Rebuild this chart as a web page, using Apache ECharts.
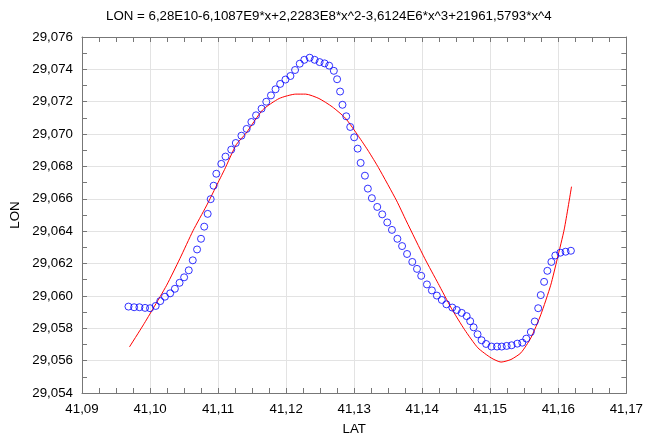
<!DOCTYPE html>
<html>
<head>
<meta charset="utf-8">
<script src="https://cdn.jsdelivr.net/npm/echarts@6/dist/echarts.min.js"></script>
<style>
html,body{margin:0;padding:0;background:#fff;}
#chart{width:646px;height:441px;}
</style>
</head>
<body>
<div id="chart"></div>
<script>
var titleText = 'LON = 6,28E10-6,1087E9*x+2,2283E8*x^2-3,6124E6*x^3+21961,5793*x^4';
var xName = 'LAT';
var yName = 'LON';
var xTicks = [41.09, 41.10, 41.11, 41.12, 41.13, 41.14, 41.15, 41.16, 41.17];
var yTicks = [29.054, 29.056, 29.058, 29.060, 29.062, 29.064, 29.066, 29.068, 29.070, 29.072, 29.074, 29.076];

var obsLat = [41.09683,41.09766,41.09844,41.09927,41.10000,41.10083,41.10150,41.10219,41.10296,41.10365,
  41.10434,41.10501,41.10569,41.10628,41.10691,41.10749,41.10796,41.10847,41.10891,41.10934,
  41.10974,41.11047,41.11109,41.11193,41.11260,41.11343,41.11420,41.11489,41.11558,41.11639,
  41.11708,41.11777,41.11844,41.11912,41.11990,41.12063,41.12131,41.12200,41.12267,41.12346,
  41.12419,41.12492,41.12565,41.12632,41.12701,41.12749,41.12793,41.12828,41.12883,41.12942,
  41.13000,41.13051,41.13095,41.13158,41.13201,41.13260,41.13339,41.13412,41.13486,41.13555,
  41.13635,41.13704,41.13777,41.13854,41.13923,41.13985,41.14069,41.14142,41.14215,41.14288,
  41.14355,41.14442,41.14507,41.14580,41.14653,41.14705,41.14755,41.14813,41.14872,41.14939,
  41.15018,41.15099,41.15168,41.15241,41.15314,41.15397,41.15470,41.15529,41.15596,41.15654,
  41.15704,41.15742,41.15791,41.15839,41.15898,41.15956,41.16029,41.16107,41.16185];
var obsLon = [29.05934,29.05930,29.05930,29.05926,29.05924,29.05938,29.05968,29.05995,29.06016,29.06044,
  29.06081,29.06115,29.06158,29.06220,29.06287,29.06353,29.06428,29.06507,29.06598,29.06681,
  29.06755,29.06816,29.06861,29.06904,29.06945,29.06990,29.07032,29.07075,29.07116,29.07157,
  29.07200,29.07239,29.07277,29.07310,29.07337,29.07359,29.07396,29.07435,29.07459,29.07472,
  29.07459,29.07445,29.07437,29.07423,29.07391,29.07339,29.07263,29.07181,29.07110,29.07044,
  29.06980,29.06910,29.06822,29.06743,29.06663,29.06604,29.06550,29.06504,29.06454,29.06408,
  29.06353,29.06308,29.06259,29.06210,29.06167,29.06124,29.06071,29.06034,29.06002,29.05975,
  29.05948,29.05928,29.05913,29.05895,29.05875,29.05844,29.05806,29.05763,29.05726,29.05703,
  29.05687,29.05687,29.05687,29.05691,29.05695,29.05705,29.05711,29.05736,29.05777,29.05842,
  29.05924,29.06005,29.06087,29.06155,29.06210,29.06250,29.06267,29.06273,29.06279];

var fitLat = [41.09698,41.09902,41.10048,41.10244,41.10438,41.10632,41.10828,41.10974,41.11095,41.11266,
  41.11412,41.11654,41.11898,41.12142,41.12288,41.12482,41.12676,41.12872,41.13066,41.13212,
  41.13358,41.13625,41.13766,41.14039,41.14234,41.14428,41.14623,41.14818,41.15012,41.15158,
  41.15304,41.15450,41.15596,41.15742,41.15888,41.15985,41.16088,41.16194];
var fitLon = [29.05685,29.05821,29.05924,29.06066,29.06230,29.06403,29.06556,29.06679,29.06781,29.06934,
  29.07006,29.07149,29.07220,29.07247,29.07247,29.07220,29.07169,29.07098,29.06985,29.06893,
  29.06792,29.06587,29.06463,29.06230,29.06077,29.05924,29.05791,29.05679,29.05617,29.05591,
  29.05607,29.05648,29.05740,29.05883,29.06066,29.06230,29.06414,29.06675];

var FONT = '"Liberation Sans", Arial, sans-serif';
var obs = obsLat.map(function (v, i) { return [v, obsLon[i]]; });
var fit = fitLat.map(function (v, i) { return [v, fitLon[i]]; });

function fmtX(v) { return v.toFixed(2).replace('.', ','); }
function fmtY(v) { return v.toFixed(3).replace('.', ','); }

var axisLineStyle = { color: '#777', width: 1 };
var tickStyle = { color: '#777', width: 1 };

function xAxisDef(pos, main) {
  return {
    type: 'value', position: pos,
    min: xTicks[0], max: xTicks[xTicks.length - 1], interval: 0.01,
    name: main ? xName : '', nameLocation: 'middle', nameGap: 30,
    nameTextStyle: { fontFamily: FONT, fontSize: 13.3, color: '#000' },
    axisLine: { show: true, onZero: false, lineStyle: axisLineStyle },
    axisTick: { show: true, inside: true, length: 5, lineStyle: tickStyle },
    minorTick: { show: true, splitNumber: 4, length: 5, lineStyle: tickStyle },
    axisLabel: { show: main, formatter: fmtX, fontFamily: FONT, fontSize: 13.3, color: '#000', margin: 10 },
    splitLine: { show: main, lineStyle: { color: '#e3e3e3', width: 1 } },
    minorSplitLine: { show: false }
  };
}
function yAxisDef(pos, main) {
  return {
    type: 'value', position: pos,
    min: yTicks[0], max: yTicks[yTicks.length - 1], interval: 0.002,
    name: main ? yName : '', nameLocation: 'middle', nameGap: 60, nameRotate: 90,
    nameTextStyle: { fontFamily: FONT, fontSize: 13.3, color: '#000' },
    axisLine: { show: true, onZero: false, lineStyle: axisLineStyle },
    axisTick: { show: true, inside: true, length: 5, lineStyle: tickStyle },
    minorTick: { show: true, splitNumber: 2, length: 5, lineStyle: tickStyle },
    axisLabel: { show: main, formatter: fmtY, fontFamily: FONT, fontSize: 13.3, color: '#000', margin: 9 },
    splitLine: { show: main, lineStyle: { color: '#e3e3e3', width: 1 } },
    minorSplitLine: { show: false }
  };
}

var chart = echarts.init(document.getElementById('chart'), null, { renderer: 'canvas' });
chart.setOption({
  animation: false,
  backgroundColor: '#fff',
  title: {
    text: titleText, left: 101, top: 5,
    textStyle: { fontFamily: FONT, fontSize: 13.3, fontWeight: 'normal', color: '#000' }
  },
  grid: { left: 82, right: 16, top: 37, bottom: 46, containLabel: false },
  xAxis: [xAxisDef('bottom', true), xAxisDef('top', false)],
  yAxis: [yAxisDef('left', true), yAxisDef('right', false)],
  series: [
    {
      type: 'line', data: fit, xAxisIndex: 0, yAxisIndex: 0,
      showSymbol: false, smooth: 0.2,
      lineStyle: { color: '#ff0000', width: 1 }, z: 2
    },
    {
      type: 'scatter', data: obs, xAxisIndex: 0, yAxisIndex: 0,
      symbol: 'circle', symbolSize: 7,
      itemStyle: { color: 'rgba(0,0,0,0)', borderColor: '#0000ff', borderWidth: 1 }, z: 3
    }
  ]
});
</script>
</body>
</html>
